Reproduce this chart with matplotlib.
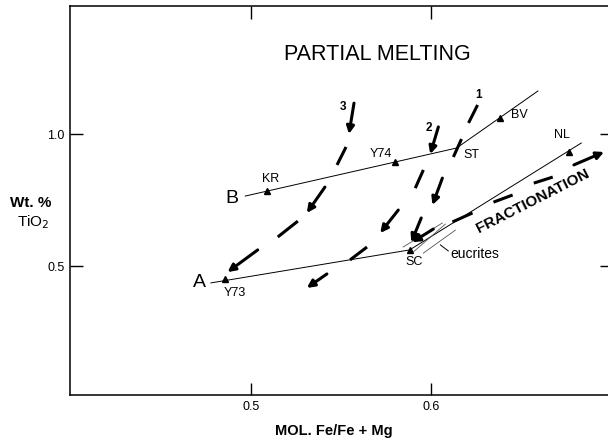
import matplotlib
matplotlib.use("Agg")
import matplotlib.pyplot as plt

plt.rcParams['font.family'] = ['Liberation Sans', 'DejaVu Sans']

# Mixing lines A and B (MOL. Fe/Fe+Mg vs Wt. % TiO2)
line_a_x = [0.478, 0.588, 0.683]
line_a_y = [0.436, 0.561, 0.966]
line_b_x = [0.497, 0.614, 0.659]
line_b_y = [0.765, 0.947, 1.163]

# Meteorite samples sitting on the lines
sample_names = ['Y73', 'SC', 'NL', 'KR', 'Y74', 'BV']
sample_x = [0.4856, 0.588, 0.676, 0.509, 0.580, 0.638]
sample_y = [0.451, 0.561, 0.932, 0.786, 0.894, 1.061]
sample_has_marker = [True, True, True, True, True, True]
# label offsets (points) from each sample
sample_offsets = [(7, -10), (3, -9), (-5, 12), (3, 8), (-10, 6), (14, 2)]

# extra vertex labels
st_point = (0.614, 0.947)

# Partial melting trajectories: (x0, y0, x1, y1, has_arrowhead)
path_1 = [
    (0.6256, 1.110, 0.6206, 1.042, False),
    (0.6167, 0.981, 0.6122, 0.913, False),
    (0.6061, 0.833, 0.6006, 0.731, True),
    (0.5944, 0.682, 0.5889, 0.590, True),
    (0.6011, 0.640, 0.5894, 0.590, True),
]
path_2 = [
    (0.6039, 1.027, 0.5994, 0.924, True),
    (0.5956, 0.864, 0.5911, 0.795, False),
    (0.5817, 0.712, 0.5717, 0.625, True),
    (0.5644, 0.572, 0.5550, 0.523, False),
    (0.5422, 0.470, 0.5311, 0.417, True),
]
path_3 = [
    (0.5572, 1.117, 0.5544, 1.000, True),
    (0.5528, 0.951, 0.5478, 0.883, False),
    (0.5411, 0.799, 0.5311, 0.701, True),
    (0.5261, 0.670, 0.5150, 0.610, False),
    (0.5039, 0.561, 0.4872, 0.477, True),
]
path_labels = ['1', '2', '3']
path_label_x = [0.6261, 0.5989, 0.5511]
path_label_y = [1.148, 1.023, 1.102]

# Fractionation trend
fractionation = [
    (0.6117, 0.667, 0.6228, 0.701, False),
    (0.6344, 0.742, 0.6450, 0.769, False),
    (0.6567, 0.814, 0.6672, 0.837, False),
    (0.6789, 0.883, 0.6956, 0.932, True),
]

# Eucrite range (short thin lines near SC)
eucrite_x0 = [0.5844, 0.5900, 0.5956]
eucrite_y0 = [0.572, 0.553, 0.549]
eucrite_x1 = [0.6061, 0.6078, 0.6133]
eucrite_y1 = [0.663, 0.659, 0.636]

fig = plt.figure(figsize=(6.08, 4.43), dpi=100)
ax = fig.add_axes([70 / 608, 48 / 443, 542 / 608, 389 / 443])
ax.set_xlim(0.4, 0.7)
ax.set_ylim(0.0114, 1.485)

for s in ax.spines.values():
    s.set_linewidth(1.1)

ax.set_xticks([0.5, 0.6])
ax.set_xticklabels(['0.5', '0.6'])
ax.set_yticks([0.5, 1.0])
ax.set_yticklabels(['0.5', '1.0'])
ax.tick_params(direction='in', length=9, width=1.0, top=True, right=True,
               labelsize=9, pad=4)

# lines A and B
ax.plot(line_a_x, line_a_y, color='black', lw=0.7)
ax.plot(line_b_x, line_b_y, color='black', lw=0.7)

for name, x, y, m, off in zip(sample_names, sample_x, sample_y,
                              sample_has_marker, sample_offsets):
    if m:
        ax.plot(x, y, marker='^', color='black', ms=4.5, ls='none')
    ax.annotate(name, (x, y), xytext=off, textcoords='offset points',
                ha='center', va='center', fontsize=9)
ax.annotate('ST', st_point, xytext=(11, -5), textcoords='offset points',
            ha='center', va='center', fontsize=9)

ax.text(0.4717, 0.436, 'A', fontsize=14, ha='center', va='center')
ax.text(0.4894, 0.754, 'B', fontsize=14, ha='center', va='center')


def draw_path(segments):
    for x0, y0, x1, y1, head in segments:
        if head:
            ax.annotate('', xy=(x1, y1), xytext=(x0, y0),
                        arrowprops=dict(arrowstyle='-|>', lw=2.2, color='black',
                                        mutation_scale=11, shrinkA=0, shrinkB=0))
        else:
            ax.plot([x0, x1], [y0, y1], color='black', lw=2.2,
                    solid_capstyle='butt')


for p in (path_1, path_2, path_3, fractionation):
    draw_path(p)

for lab, x, y in zip(path_labels, path_label_x, path_label_y):
    ax.text(x, y, lab, fontsize=8.5, fontweight='bold', ha='center', va='center')

for x0, y0, x1, y1 in zip(eucrite_x0, eucrite_y0, eucrite_x1, eucrite_y1):
    ax.plot([x0, x1], [y0, y1], color='#555555', lw=0.6)
ax.plot([0.605, 0.6094], [0.580, 0.557], color='black', lw=0.7)
ax.text(0.6106, 0.547, 'eucrites', fontsize=10, ha='left', va='center')

ax.text(0.570, 1.303, 'PARTIAL MELTING', fontsize=15.5, ha='center', va='center')
ax.text(0.6561, 0.746, 'FRACTIONATION', fontsize=11, fontweight='bold',
        ha='center', va='center', rotation=27)

fig.text(31 / 608, 1 - 203 / 443, 'Wt. %', fontsize=11, fontweight='bold',
         ha='center', va='center')
fig.text(33 / 608, 1 - 222 / 443, 'TiO$_2$', fontsize=11,
         ha='center', va='center')
fig.text(334 / 608, 1 - 431 / 443, 'MOL. Fe/Fe + Mg', fontsize=10.5,
         fontweight='bold', ha='center', va='center')

fig.savefig('out.png', dpi=100)
